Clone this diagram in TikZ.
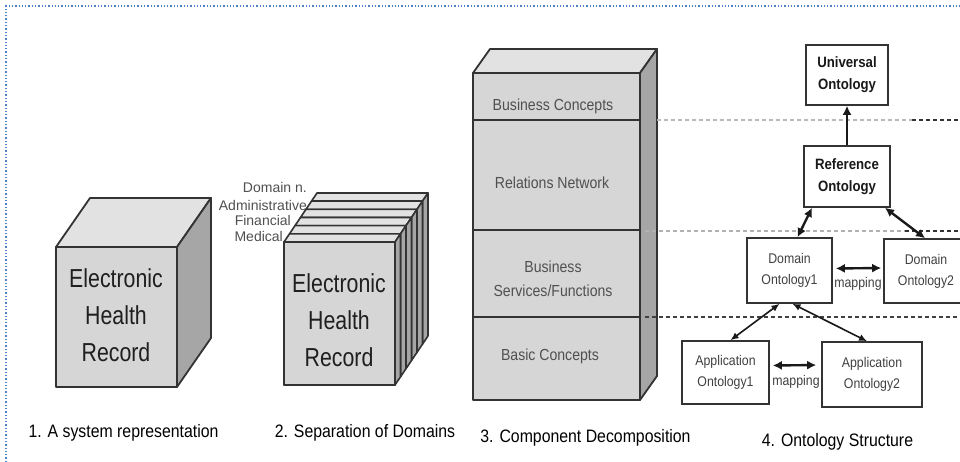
\documentclass[tikz,border=0pt]{standalone}
\usepackage{fontspec}
\setmainfont{Liberation Sans}[FakeStretch=0.88]
\newfontfamily\ehrfont{Liberation Sans}[FakeStretch=0.82]
\newfontfamily\plainfont{Liberation Sans}
\usetikzlibrary{arrows.meta}
\definecolor{topgray}{HTML}{E2E2E2}
\definecolor{frontgray}{HTML}{D6D6D6}
\definecolor{sidegray}{HTML}{A6A6A6}
\definecolor{edgec}{HTML}{333333}
\definecolor{bordblue}{HTML}{4F81C7}
\definecolor{txtgray}{HTML}{505050}
\definecolor{boxtxt}{HTML}{404040}
\tikzset{
  cubeline/.style={draw=edgec, line width=1.8pt, line join=round},
  plateline/.style={draw=edgec, line width=1.6pt, line join=round},
  ehrtext/.style={align=center, text=black!88, font=\ehrfont\fontsize{26}{37}\selectfont},
  domlabel/.style={anchor=east, inner sep=0pt, text=txtgray, font=\plainfont\fontsize{14}{14}\selectfont},
  layertext/.style={align=center, text=txtgray, font=\fontsize{16}{24}\selectfont},
  caption/.style={text=black, font=\fontsize{18}{18}\selectfont},
  ontobox/.style={draw=edgec, line width=1.6pt, fill=white, align=center, text=boxtxt, inner sep=0pt, font=\fontsize{14}{21}\selectfont},
  ontobold/.style={ontobox, text=black!90, font=\bfseries\fontsize{15}{22}\selectfont},
  thickarrow/.style={{Latex[length=9pt,width=9pt]}-{Latex[length=9pt,width=9pt]}, line width=2.4pt, draw=black!90},
  thinarrow/.style={{Latex[length=8pt,width=7pt]}-{Latex[length=8pt,width=7pt]}, line width=1.6pt, draw=black!90},
  maplabel/.style={text=boxtxt, inner sep=0pt, font=\fontsize{14}{14}\selectfont},
  guide/.style={dashed, dash pattern=on 4pt off 3pt, line width=1.4pt}
}
\begin{document}
\begin{tikzpicture}[x=1pt,y=-1pt]
\clip (0,0) rectangle (960,462);
\fill[white] (0,0) rectangle (960,462);
% page border
\draw[bordblue, dotted, line width=1.3pt] (6,462) -- (6,6) -- (960,6);

% ---------- 1. single cube
\draw[cubeline, fill=topgray] (56,247) -- (90,198) -- (211,198) -- (177,247) -- cycle;
\draw[cubeline, fill=sidegray] (177,247) -- (211,198) -- (211,338) -- (177,387) -- cycle;
\draw[cubeline, fill=frontgray] (56,247) rectangle (177,387);
\node[ehrtext] (ehr1) at (116,315) {Electronic\\Health\\Record};
\node[caption] (cap1) at (123.5,433) {1. A system representation};

% ---------- 2. stacked cube
\foreach \i in {5,4,3,2,1,0} {
  \pgfmathsetmacro\ox{284+5.5*\i}
  \pgfmathsetmacro\oy{242-8.17*\i}
  \draw[plateline, fill=topgray] (\ox,\oy) -- ++(5.5,-8.17) -- ++(111,0) -- ++(-5.5,8.17) -- cycle;
  \draw[plateline, fill=sidegray] (\ox+111,\oy) -- ++(5.5,-8.17) -- ++(0,143) -- ++(-5.5,8.17) -- cycle;
  \draw[plateline, fill=frontgray] (\ox,\oy) rectangle ++(111,143);
}
\draw[cubeline] (284,242) rectangle (395,385);
\node[ehrtext] (ehr2) at (339,320) {Electronic\\Health\\Record};
\node[domlabel] (dn) at (307,187) {Domain n.};
\node[domlabel] (dadm) at (307,205) {Administrative};
\node[domlabel] (dfin) at (291,220) {Financial};
\node[domlabel] (dmed) at (283,236) {Medical};
\node[caption] (cap2) at (365,433) {2. Separation of Domains};

% ---------- 3. component decomposition
\draw[cubeline, fill=topgray] (473,73) -- (490,49) -- (657,49) -- (640,73) -- cycle;
\draw[cubeline, fill=sidegray] (640,73) -- (657,49) -- (657,376) -- (640,400) -- cycle;
\draw[cubeline, fill=frontgray] (473,73) rectangle (640,400);
\draw[cubeline] (473,120) -- (640,120);
\draw[cubeline] (473,230) -- (640,230);
\draw[cubeline] (473,317) -- (640,317);
\node[layertext] (l1) at (553,106) {Business Concepts};
\node[layertext] (l2) at (552,183) {Relations Network};
\node[layertext] (l3) at (553,279) {Business\\Services/Functions};
\node[layertext] (l4) at (550,356) {Basic Concepts};
\node[caption] (cap3) at (585.5,438) {3. Component Decomposition};

% guide lines
\draw[guide, gray!55] (657,120) -- (912,120);
\draw[guide, black!80] (912,120) -- (960,120);
\draw[guide, gray!60] (645,231) -- (905,231);
\draw[guide, black!80] (905,231) -- (960,231);
\draw[guide, black!75] (645,317) -- (960,317);

% ---------- 4. ontology structure
\node[ontobold, minimum width=82pt, minimum height=60pt] (uni) at (847,75) {Universal\\Ontology};
\node[ontobold, minimum width=86pt, minimum height=61pt] (ref) at (847,176.5) {Reference\\Ontology};
\node[ontobox, minimum width=85pt, minimum height=65pt] (dom1) at (789.5,270.5) {Domain\\Ontology1};
\node[ontobox, minimum width=84pt, minimum height=64pt] (dom2) at (926,271) {Domain\\Ontology2};
\node[ontobox, minimum width=87pt, minimum height=63pt] (app1) at (725.5,372.5) {Application\\Ontology1};
\node[ontobox, minimum width=100pt, minimum height=65pt] (app2) at (872,374.5) {Application\\Ontology2};

\draw[-{Latex[length=9pt,width=9pt]}, line width=2.4pt, draw=black!90] (ref.north) -- (uni.south);
\draw[thickarrow] ([xshift=8pt]dom1.north) -- ([xshift=-35pt]ref.south);
\draw[thickarrow] ([xshift=38pt]ref.south) -- ([xshift=-1pt]dom2.north);
\draw[thickarrow, shorten <=3pt, shorten >=2pt] ([yshift=2pt]dom1.east) -- ([yshift=3pt]dom2.west);
\node[maplabel] (map1) at (858,284) {mapping};
\draw[thinarrow] ([xshift=-10pt]dom1.south) -- ([xshift=5pt]app1.north);
\draw[thinarrow] ([xshift=3pt]dom1.south) -- ([xshift=-5pt]app2.north);
\draw[thickarrow, shorten <=3pt, shorten >=5pt] ([yshift=7pt]app1.east) -- ([yshift=9.5pt]app2.west);
\node[maplabel] (map2) at (796,382) {mapping};
\node[caption] (cap4) at (837.5,442) {4. Ontology Structure};
\end{tikzpicture}
\end{document}
